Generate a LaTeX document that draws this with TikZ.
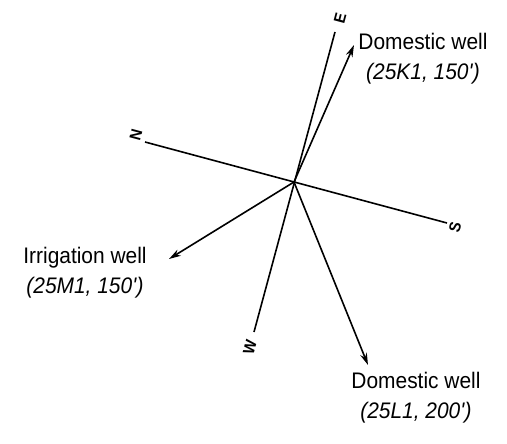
\documentclass[tikz,border=0pt]{standalone}
\usepackage{fontspec}
\setmainfont[FakeStretch=0.93]{Liberation Sans}
\usetikzlibrary{arrows.meta}
\begin{document}
\begin{tikzpicture}[x=1pt,y=-1pt,
  axis/.style={line width=1.6pt},
  well/.style={line width=1.6pt,-{Stealth[length=12pt,width=7pt]}},
  lbl/.style={align=center,font=\fontsize{22.5}{30}\selectfont,inner sep=0pt},
  dir/.style={font=\bfseries\fontsize{16}{16}\selectfont,rotate=75,inner sep=0pt}]
\useasboundingbox (0,0) rectangle (507,444);
\coordinate (c) at (294,182);
\coordinate (nend) at (145,142);
\coordinate (send) at (447,223);
\coordinate (eend) at (335,32);
\coordinate (wend) at (254,332);
\coordinate (t1) at (354,45);
\coordinate (t2) at (169,259);
\coordinate (t3) at (368,365);
\draw[axis] (nend) -- (send);
\draw[axis] (eend) -- (wend);
\draw[well] (c) -- (t1);
\draw[well] (c) -- (t2);
\draw[well] (c) -- (t3);
\node[dir] (N) at (136,135) {N};
\node[dir] (S) at (455,227) {S};
\node[dir] (E) at (340,18) {E};
\node[dir] (W) at (250,347) {W};
\node[lbl] (d1) at (423,59) {Domestic well\\\textit{(25K1, 150\textquotesingle)}};
\node[lbl] (iw) at (85,273) {Irrigation well\\\textit{(25M1, 150\textquotesingle)}};
\node[lbl] (d2) at (416,398) {Domestic well\\\textit{(25L1, 200\textquotesingle)}};
\end{tikzpicture}
\end{document}
